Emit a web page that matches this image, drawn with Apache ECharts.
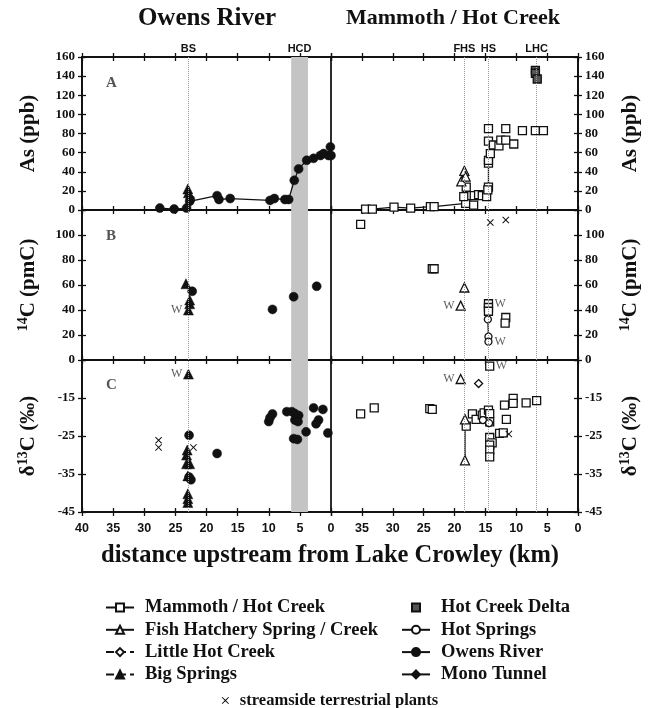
<!DOCTYPE html>
<html>
<head>
<meta charset="utf-8">
<script src="https://cdn.jsdelivr.net/npm/echarts@6/dist/echarts.min.js"></script>
<style>
html, body { margin: 0; background: #fff; }
#chart { width: 659px; height: 708px; }
</style>
</head>
<body>
<div id="chart"></div>
<script>
// distance (km) , value
// panel A : As (ppb)
const owensA = [[27.5,2],[25.2,1],[23.2,2],[22.7,9],[22.6,11],[18.3,15],[18.0,11],[16.2,12],[9.8,10],[9.1,12],[7.4,11],[6.8,11],[5.9,31],[5.2,43],[3.9,52],[2.8,54],[1.7,57],[1.2,59],[0.4,57],[0.1,66],[0,57]]
const bigA = [[23.0,22],[22.9,18]]
const mamA_line = [[34.4,1],[33.3,1],[29.8,3],[27.1,2],[23.9,3.5],[23.3,3.5],[18.2,7],[17.9,15],[16.8,15],[16.1,16],[15.5,15],[14.8,14],[14.5,24],[14.5,49],[14.5,52],[14.2,59],[14.5,72],[13.7,68],[12.8,67],[12.5,73],[11.7,73],[10.4,69]]
const mamA_pts = [[18.5,14],[18.1,24],[16.9,5],[14.6,21],[14.5,85],[11.7,85],[9.0,83],[6.9,83],[5.6,83]]
const deltaA = [[6.9,146],[6.9,143],[6.6,137]]
const fishA = [[18.4,41],[18.9,30],[18.2,35]]

// panel B : 14C (pmC)
const bigB = [[23.3,61],[22.7,48],[22.7,45],[22.9,40]]
const owensB = [[22.3,55],[9.4,40.5],[6.0,50.6],[2.3,59]]
const mamB = [[35.2,108.5],[23.6,73],[23.3,73],[14.5,45],[14.5,42],[14.5,39],[11.7,34],[11.8,29.5]]
const fishB = [[18.4,58],[19.0,43.5]]
const hotB = [[14.6,32.5],[14.5,18.7],[14.5,14.7]]
const plantsB = [[14.2,110],[11.7,112]]

// panel C : d13C (permil)
const bigC = [[22.9,-8.7],[23.1,-28.7],[23.2,-30],[23.2,-32.3],[22.7,-32.3],[23.0,-35.5],[23.0,-40.2],[23.0,-41.5],[23.0,-42.5]]
const owensC = [[22.8,-24.8],[22.5,-36.5],[22.8,-35.8],[18.3,-29.6],[10.0,-21.2],[9.8,-20.2],[9.4,-19.2],[7.1,-18.6],[6.3,-18.6],[5.8,-19.1],[5.2,-19.6],[5.8,-20.8],[5.3,-21.2],[6.0,-25.7],[5.4,-25.9],[4.0,-23.9],[2.8,-17.6],[1.3,-18],[2.0,-20.8],[2.4,-21.8],[0.5,-24.2]]
const plantsC_L = [[27.7,-26.1],[27.7,-28],[22.1,-28]]
const mamC = [[35.2,-19.2],[33,-17.6],[24,-17.8],[23.6,-18],[14.3,-6.6],[18.1,-22.4],[17.1,-19.2],[16.5,-20.6],[15.5,-19.5],[15.2,-18.9],[14.5,-18.2],[14.3,-19.1],[14.3,-21.3],[14.3,-25.4],[13.9,-26.8],[14.3,-27.4],[14.3,-28.7],[14.3,-30.5],[11.9,-16.9],[10.5,-15.1],[10.5,-16.4],[11.6,-20.6],[12.7,-24.3],[12.1,-24.2],[8.4,-16.3],[6.7,-15.7]]
const fishC_line = [[18.3,-20.6],[18.3,-31.4]]
const fishC_pts = [[19.0,-10]]
const lhcC = [[16.1,-11.2]]
const hotC = [[15.4,-20.8],[14.4,-21.6]]
const plantsC_R = [[11.2,-24.5]]

// "W" notes next to points
const wLeft = {2: [[22.9,40]], 3: [[19.0,43.5]], 4: [[22.9,-8.7]], 5: [[19.0,-10]]}
const wRight = {3: [[14.5,45],[14.5,14.7]], 5: [[14.3,-6.6]]}

// reference sites
const sitesLeft = [['BS',22.9]]
const sitesRight = [['FHS',18.4],['HS',14.5],['LHC',6.7]]
const hcdBand = [6.4, 3.7]

const xTicks = [0,40,5]
const rowsY = [[0,160,20],[0,120,20],[-45,-5,10]]

const SERIF = '"Liberation Serif", "DejaVu Serif", serif'
const NARROW = '"Liberation Sans Narrow", "Liberation Sans", sans-serif'
const INK = '#111'

const rowTop = [57,210,360]
const rowH = [153,150,152]
const grids = []
for (let r = 0; r < 3; r++) {
  grids.push({left: 82, top: rowTop[r], width: 249, height: rowH[r], show: true, borderColor: INK, borderWidth: 1.3})
  grids.push({left: 331, top: rowTop[r], width: 247, height: rowH[r], show: true, borderColor: INK, borderWidth: 1.3})
}

function xAx(g, pos, inside, labels) {
  return {
    type: 'value', gridIndex: g, position: pos, min: xTicks[0], max: xTicks[1], interval: xTicks[2], inverse: true,
    axisLine: {show: true, onZero: false, lineStyle: {color: INK, width: 1.6}},
    axisTick: {show: true, inside: inside, length: 4, lineStyle: {color: INK, width: 1.3}},
    axisLabel: {show: labels, margin: 10, showMaxLabel: g % 2 === 0, fontFamily: NARROW, fontWeight: 'bold', fontSize: 12.5, color: INK},
    splitLine: {show: false}
  }
}
const xAxes = []
for (let g = 0; g < 6; g++) xAxes.push(xAx(g, 'bottom', true, g >= 4))
for (let g = 0; g < 6; g++) xAxes.push(xAx(g, 'top', true, false))
xAxes.push(xAx(4, 'bottom', false, false), xAx(5, 'bottom', false, false))
xAxes.push(xAx(0, 'top', false, false), xAx(1, 'top', false, false))

const yNames = [
  '{m|As (ppb)}',
  '{s|14}{m|C (pmC)}',
  '{m|δ}{s|13}{m|C (‰)}'
]
const richName = {
  m: {fontFamily: SERIF, fontWeight: 'bold', fontSize: 21, lineHeight: 26, color: INK},
  s: {fontFamily: SERIF, fontWeight: 'bold', fontSize: 14, lineHeight: 14, verticalAlign: 'top', color: INK}
}
function yAx(g, inside, main) {
  const r = Math.floor(g / 2)
  const side = g % 2 === 0 ? 'left' : 'right'
  const ax = {
    type: 'value', gridIndex: g, position: side, min: rowsY[r][0], max: rowsY[r][1], interval: rowsY[r][2],
    axisLine: {show: true, onZero: false, lineStyle: {color: INK, width: 1.6}},
    axisTick: {show: true, inside: inside, length: 4, lineStyle: {color: INK, width: 1.3}},
    axisLabel: {show: main, margin: 7, showMaxLabel: r === 0, fontFamily: SERIF, fontWeight: 'bold', fontSize: 13, color: INK},
    splitLine: {show: false}
  }
  if (main) {
    ax.name = yNames[r]
    ax.nameLocation = 'middle'
    ax.nameGap = 40
    ax.nameRotate = 90
    ax.nameTextStyle = {rich: richName}
  }
  return ax
}
const yAxes = []
for (let g = 0; g < 6; g++) yAxes.push(yAx(g, false, true))
for (let g = 0; g < 6; g++) yAxes.push(yAx(g, true, false))

const xPath = 'path://M0,1L1,0L5,4L9,0L10,1L6,5L10,9L9,10L5,6L1,10L0,9L4,5Z'
const open = {color: '#fff', borderColor: INK, borderWidth: 1.3}
const solid = {color: INK, borderColor: INK, borderWidth: 0.5}
const STY = {
  'Mammoth / Hot Creek': {symbol: 'rect', symbolSize: 8, itemStyle: open, lineStyle: {color: INK, width: 1.3}},
  'Fish Hatchery Spring / Creek': {symbol: 'triangle', symbolSize: 9, itemStyle: open, lineStyle: {color: INK, width: 1.3}},
  'Little Hot Creek': {symbol: 'diamond', symbolSize: 8, itemStyle: open, lineStyle: {color: INK, width: 1, type: 'dashed'}},
  'Big Springs': {symbol: 'triangle', symbolSize: 10, itemStyle: solid, lineStyle: {color: INK, width: 0.8, type: 'dashed'}},
  'Hot Creek Delta': {symbol: 'rect', symbolSize: 8, itemStyle: {color: '#555', borderColor: INK, borderWidth: 1.3}, lineStyle: {width: 0, opacity: 0}},
  'Hot Springs': {symbol: 'circle', symbolSize: 7, itemStyle: open, lineStyle: {color: INK, width: 1.3}},
  'Owens River': {symbol: 'circle', symbolSize: 9, itemStyle: solid, lineStyle: {color: INK, width: 1.3}},
  'Mono Tunnel': {symbol: 'diamond', symbolSize: 10, itemStyle: solid, lineStyle: {color: INK, width: 1.3}},
  'streamside terrestrial plants': {symbol: xPath, symbolSize: 7, itemStyle: {color: INK}, lineStyle: {width: 0, opacity: 0}}
}
const NOLINE = {width: 0, opacity: 0}

function ser(name, g, data, connect) {
  const st = STY[name]
  return {
    type: 'line', name: name, xAxisIndex: g, yAxisIndex: g, data: data,
    symbol: st.symbol, symbolSize: st.symbolSize, itemStyle: st.itemStyle,
    lineStyle: connect ? st.lineStyle : NOLINE, z: 3, silent: true
  }
}

const series = []
// legend carriers first so the legend takes their style
Object.keys(STY).forEach(n => {
  series.push({type: 'line', name: n, xAxisIndex: 0, yAxisIndex: 0, data: [], symbol: STY[n].symbol, symbolSize: STY[n].symbolSize, itemStyle: STY[n].itemStyle, lineStyle: STY[n].lineStyle})
})

// guide lines and the HCD band in every grid
for (let g = 0; g < 6; g++) {
  const sites = g % 2 === 0 ? sitesLeft : sitesRight
  const s = {
    type: 'line', xAxisIndex: g, yAxisIndex: g, data: [], z: 1, silent: true,
    markLine: {
      symbol: 'none', silent: true, animation: false,
      lineStyle: {type: 'dotted', color: '#999', width: 1},
      label: {show: g < 2, position: 'end', formatter: '{b}', fontFamily: NARROW, fontWeight: 'bold', fontSize: 11, color: INK, distance: 3},
      data: sites.map(d => ({name: d[0], xAxis: d[1]}))
    }
  }
  if (g % 2 === 0) {
    s.markArea = {
      silent: true,
      itemStyle: {color: '#c4c4c4'},
      label: {show: g === 0, position: 'top', fontFamily: NARROW, fontWeight: 'bold', fontSize: 11, color: INK, distance: 3},
      data: [[{name: 'HCD', xAxis: hcdBand[0]}, {xAxis: hcdBand[1]}]]
    }
  }
  series.push(s)
}

series.push(
  ser('Owens River', 0, owensA, true),
  ser('Big Springs', 0, bigA, false),
  ser('Mammoth / Hot Creek', 1, mamA_line, true),
  ser('Mammoth / Hot Creek', 1, mamA_pts, false),
  ser('Hot Creek Delta', 1, deltaA, false),
  ser('Fish Hatchery Spring / Creek', 1, fishA, true),
  ser('Big Springs', 2, bigB, false),
  ser('Owens River', 2, owensB, false),
  ser('Mammoth / Hot Creek', 3, mamB, false),
  ser('Fish Hatchery Spring / Creek', 3, fishB, false),
  ser('Hot Springs', 3, hotB, true),
  ser('streamside terrestrial plants', 3, plantsB, false),
  ser('Big Springs', 4, bigC, false),
  ser('Owens River', 4, owensC, false),
  ser('streamside terrestrial plants', 4, plantsC_L, false),
  ser('Mammoth / Hot Creek', 5, mamC, false),
  ser('Fish Hatchery Spring / Creek', 5, fishC_line, true),
  ser('Fish Hatchery Spring / Creek', 5, fishC_pts, false),
  ser('Little Hot Creek', 5, lhcC, false),
  ser('Hot Springs', 5, hotC, false),
  ser('streamside terrestrial plants', 5, plantsC_R, false)
)

function wSeries(g, data, pos) {
  return {
    type: 'scatter', xAxisIndex: g, yAxisIndex: g, data: data, symbolSize: 8, z: 4, silent: true,
    itemStyle: {color: 'rgba(0,0,0,0)'},
    label: {show: true, position: pos, distance: 2, formatter: 'W', fontFamily: SERIF, fontSize: 12, color: '#333'}
  }
}
Object.keys(wLeft).forEach(g => series.push(wSeries(+g, wLeft[g], 'left')))
Object.keys(wRight).forEach(g => series.push(wSeries(+g, wRight[g], 'right')))

const legText = {fontFamily: SERIF, fontWeight: 'bold', fontSize: 18.5, color: INK, lineHeight: 18, padding: [0, 0, 0, 6]}
const option = {
  backgroundColor: '#fff',
  animation: false,
  grid: grids,
  xAxis: xAxes,
  yAxis: yAxes,
  series: series,
  legend: [
    {orient: 'vertical', left: 100, top: 593, itemWidth: 28, itemHeight: 10, itemGap: 3.3, selectedMode: false, textStyle: legText,
      data: ['Mammoth / Hot Creek', 'Fish Hatchery Spring / Creek', 'Little Hot Creek', 'Big Springs']},
    {orient: 'vertical', left: 396, top: 593, itemWidth: 28, itemHeight: 10, itemGap: 3.3, selectedMode: false, textStyle: legText,
      data: ['Hot Creek Delta', 'Hot Springs', 'Owens River', 'Mono Tunnel']},
    {left: 'center', top: 687, itemWidth: 9, itemHeight: 9, selectedMode: false, textStyle: {fontFamily: SERIF, fontWeight: 'bold', fontSize: 16.5, color: INK, padding: [0, 0, 0, 5]},
      data: ['streamside terrestrial plants']}
  ],
  graphic: [
    {type: 'text', x: 207, y: 6, style: {text: 'Owens River', textAlign: 'center', font: 'bold 25px ' + SERIF, fill: INK}},
    {type: 'text', x: 453, y: 7, style: {text: 'Mammoth / Hot Creek', textAlign: 'center', font: 'bold 22px ' + SERIF, fill: INK}},
    {type: 'text', x: 330, y: 543, style: {text: 'distance upstream from Lake Crowley (km)', textAlign: 'center', font: 'bold 24.5px ' + SERIF, fill: INK}},
    {type: 'text', x: 106, y: 76, style: {text: 'A', font: 'bold 15px ' + SERIF, fill: '#555'}},
    {type: 'text', x: 106, y: 229, style: {text: 'B', font: 'bold 15px ' + SERIF, fill: '#555'}},
    {type: 'text', x: 106, y: 378, style: {text: 'C', font: 'bold 15px ' + SERIF, fill: '#555'}}
  ]
}

const chart = echarts.init(document.getElementById('chart'))
chart.setOption(option)
</script>
</body>
</html>
